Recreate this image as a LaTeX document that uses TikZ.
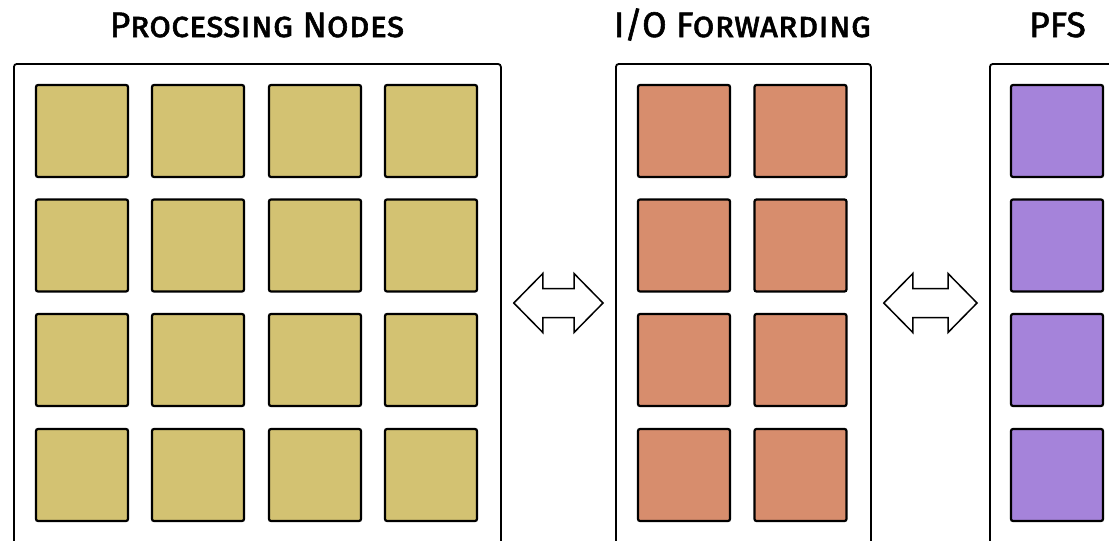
\documentclass[tikz,border=0pt]{standalone}
\usepackage{fontspec}
\setsansfont{Fira Sans}
\usetikzlibrary{calc}
\definecolor{pnfill}{RGB}{211,194,114}
\definecolor{iofill}{RGB}{215,141,109}
\definecolor{pfsfill}{RGB}{165,131,218}
\tikzset{
  group/.style={draw=black, line width=1.8pt, rounded corners=3pt, fill=white,
    anchor=north west, inner sep=0pt},
  unit/.style={draw=black, line width=2.2pt, rounded corners=2pt,
    minimum size=92pt, inner sep=0pt},
  title/.style={font=\sffamily\scshape\addfontfeatures{FakeBold=1.6}\fontsize{35.5}{36}\selectfont, anchor=base},
  blockarrow/.style={draw=black, line width=1.5pt, fill=white, line join=miter},
}
% double-headed block arrow spanning from the east side of #1 to the west side of #2
\newcommand\linkarrow[2]{%
  \path let \p1=($(#1.east)+(12,0)$), \p2=($(#2.west)+(-12,0)$) in
    coordinate (L) at (\x1,303) coordinate (R) at (\x2,303);
  \draw[blockarrow] (L) -- ($(L)+(29,-29.5)$) -- ($(L)+(29,-14.5)$)
    -- ($(R)+(-29,-14.5)$) -- ($(R)+(-29,-29.5)$) -- (R)
    -- ($(R)+(-29,29.5)$) -- ($(R)+(-29,14.5)$)
    -- ($(L)+(29,14.5)$) -- ($(L)+(29,29.5)$) -- cycle;
}
\begin{document}
\begin{tikzpicture}[x=1pt,y=-1pt]
\useasboundingbox (0,0) rectangle (1109,541);
\clip (0,0) rectangle (1109,541);

% group frames
\node[group, minimum width=487pt, minimum height=560pt] (pn) at (13,63) {};
\node[group, minimum width=255pt, minimum height=560pt] (io) at (615,63) {};
\node[group, minimum width=138pt, minimum height=560pt] (pfs) at (989,63) {};

% titles
\node[title] (tpn) at (257,37) {Processing Nodes};
\node[title] (tio) at (742.5,37) {I/O Forwarding};
\node[title] (tpfs) at (1057.5,37) {PFS};

% processing nodes: 4 x 4
\foreach \c/\x in {1/82,2/198,3/315,4/431}{
  \foreach \r/\y in {1/131,2/245.5,3/360,4/475}{
    \node[unit, fill=pnfill] (pn-\r-\c) at (\x,\y) {};
  }
}
% forwarding nodes: 4 x 2
\foreach \c/\x in {1/684,2/800.5}{
  \foreach \r/\y in {1/131,2/245.5,3/360,4/475}{
    \node[unit, fill=iofill] (io-\r-\c) at (\x,\y) {};
  }
}
% file system servers: 4 x 1
\foreach \r/\y in {1/131,2/245.5,3/360,4/475}{
  \node[unit, fill=pfsfill] (pfs-\r) at (1057,\y) {};
}

% links between the tiers
\linkarrow{pn}{io}
\linkarrow{io}{pfs}
\end{tikzpicture}
\end{document}
